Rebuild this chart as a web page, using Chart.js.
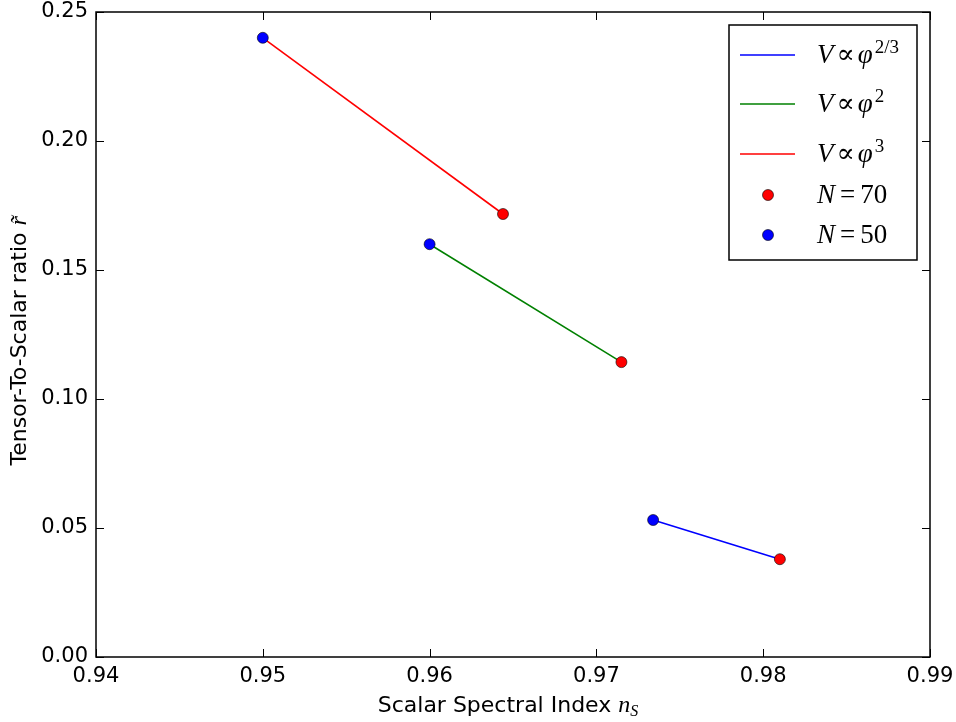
<!DOCTYPE html>
<html>
<head>
<meta charset="utf-8">
<script src="https://cdn.jsdelivr.net/npm/chart.js@4"></script>
<style>
  body { margin: 0; background: #fff; }
</style>
</head>
<body>
<canvas id="chart" width="956" height="722"></canvas>
<script>
// potentials V ∝ φ^p, in legend order
const modelExponents = ['2/3', '2', '3'];
// end points for N = 50 e-folds
const n50Ns = [0.9734, 0.960, 0.950];
const n50R = [0.0531, 0.160, 0.240];
// end points for N = 70 e-folds
const n70Ns = [0.9810, 0.9715, 0.9644];
const n70R = [0.0379, 0.1143, 0.1717];
const pointLabels = ['70', '50'];

const xTicks = [0.94, 0.95, 0.96, 0.97, 0.98, 0.99];
const yTicks = [0.00, 0.05, 0.10, 0.15, 0.20, 0.25];

const lineColors = ['#0000ff', '#008000', '#ff0000'];
const pointColors = ['#ff0000', '#0000ff'];

const SANS = '"DejaVu Sans", sans-serif';
const SERIF = '"Liberation Serif", "DejaVu Serif", serif';

const datasets = [];
modelExponents.forEach((p, i) => {
  datasets.push({
    label: 'V∝φ^' + p,
    data: [{ x: n50Ns[i], y: n50R[i] }, { x: n70Ns[i], y: n70R[i] }],
    showLine: true,
    borderColor: lineColors[i],
    borderWidth: 1.6,
    pointRadius: 0,
    order: 2
  });
});
datasets.push({
  label: 'N=70',
  data: n70Ns.map((v, i) => ({ x: v, y: n70R[i] })),
  backgroundColor: pointColors[0],
  borderColor: '#000',
  borderWidth: 0.6,
  pointRadius: 5.5,
  order: 1
});
datasets.push({
  label: 'N=50',
  data: n50Ns.map((v, i) => ({ x: v, y: n50R[i] })),
  backgroundColor: pointColors[1],
  borderColor: '#000',
  borderWidth: 0.6,
  pointRadius: 5.5,
  order: 1
});

// draw a run of pieces [text, font, raise, gapAfter]
function drawMath(ctx, pieces, x, y) {
  pieces.forEach(([txt, font, raise, gap]) => {
    ctx.font = font;
    ctx.fillText(txt, x, y - (raise || 0));
    x += ctx.measureText(txt).width + (gap || 0);
  });
  return x;
}

function zeroPad(s) {
  s.paddingTop = 0; s.paddingBottom = 0;
  s.paddingLeft = 0; s.paddingRight = 0;
}

const frame = {
  id: 'frame',
  afterDraw(chart) {
    const { ctx, chartArea: a, scales: { x, y } } = chart;
    ctx.save();
    ctx.strokeStyle = '#000';
    ctx.lineWidth = 1;
    ctx.beginPath();
    xTicks.forEach(t => {
      const px = Math.round(x.getPixelForValue(t)) + 0.5;
      ctx.moveTo(px, a.bottom); ctx.lineTo(px, a.bottom - 8);
      ctx.moveTo(px, a.top); ctx.lineTo(px, a.top + 8);
    });
    yTicks.forEach(t => {
      const py = Math.round(y.getPixelForValue(t)) + 0.5;
      ctx.moveTo(a.left, py); ctx.lineTo(a.left + 8, py);
      ctx.moveTo(a.right, py); ctx.lineTo(a.right - 8, py);
    });
    ctx.stroke();
    ctx.lineWidth = 1.5;
    ctx.strokeRect(a.left, a.top, a.right - a.left, a.bottom - a.top);

    // axis titles
    ctx.fillStyle = '#000';
    ctx.textBaseline = 'alphabetic';
    const tf = '22px ' + SANS;
    ctx.font = tf;
    const xt = 'Scalar Spectral Index ';
    const xw = ctx.measureText(xt).width + 30;
    let cx = (a.left + a.right) / 2 - xw / 2;
    cx = drawMath(ctx, [[xt, tf], ['n', 'italic 24px ' + SERIF]], cx, 712);
    drawMath(ctx, [['S', 'italic 16px ' + SERIF, -4]], cx, 712);

    ctx.save();
    ctx.translate(26, (a.top + a.bottom) / 2 + 6);
    ctx.rotate(-Math.PI / 2);
    ctx.font = tf;
    const yt = 'Tensor-To-Scalar ratio ';
    const yw = ctx.measureText(yt).width + 10;
    drawMath(ctx, [[yt, tf], ['r\u0303', 'italic 24px ' + SERIF]], -yw / 2, 0);
    ctx.restore();

    // legend
    const bx = a.right - 201, by = a.top + 13, bw = 188, bh = 235;
    ctx.fillStyle = '#fff';
    ctx.fillRect(bx, by, bw, bh);
    ctx.lineWidth = 1.5;
    ctx.strokeRect(bx, by, bw, bh);
    const rows = [30, 79, 129, 170, 210];
    const tx = bx + 88;
    const it = 'italic 27px ' + SERIF, rm = '27px ' + SERIF;
    ctx.textBaseline = 'middle';
    modelExponents.forEach((p, i) => {
      const ry = by + rows[i];
      ctx.strokeStyle = lineColors[i];
      ctx.lineWidth = 1.6;
      ctx.beginPath();
      ctx.moveTo(bx + 11, ry); ctx.lineTo(bx + 66, ry);
      ctx.stroke();
      ctx.fillStyle = '#000';
      drawMath(ctx, [
        ['V', it, 0, 3],
        ['\u221d', rm, 0, 3],
        ['\u03c6', it, 0, 2],
        [p, '19px ' + SERIF, 8]
      ], tx, ry + 1);
    });
    pointLabels.forEach((n, i) => {
      const ry = by + rows[3 + i];
      ctx.fillStyle = pointColors[i];
      ctx.strokeStyle = '#000';
      ctx.lineWidth = 0.6;
      ctx.beginPath();
      ctx.arc(bx + 39, ry, 5.5, 0, Math.PI * 2);
      ctx.fill(); ctx.stroke();
      ctx.fillStyle = '#000';
      drawMath(ctx, [
        ['N', it, 0, 5],
        ['=', rm, 0, 5],
        [n, rm]
      ], tx, ry + 1);
    });
    ctx.restore();
  }
};

new Chart(document.getElementById('chart'), {
  type: 'scatter',
  data: { datasets },
  options: {
    responsive: false,
    animation: false,
    devicePixelRatio: 1,
    layout: { padding: { top: 12, right: 26, left: 0, bottom: 0 } },
    plugins: { legend: { display: false }, tooltip: { enabled: false } },
    scales: {
      x: {
        type: 'linear',
        min: 0.94,
        max: 0.99,
        afterBuildTicks: s => { s.ticks = xTicks.map(v => ({ value: v })); },
        afterFit: s => { s.height = 65; zeroPad(s); },
        grid: { display: false, drawTicks: false },
        border: { display: false },
        ticks: {
          padding: 7,
          color: '#000',
          maxRotation: 0,
          font: { family: SANS, size: 21 },
          callback: v => v.toFixed(2)
        }
      },
      y: {
        type: 'linear',
        min: 0,
        max: 0.25,
        afterBuildTicks: s => { s.ticks = yTicks.map(v => ({ value: v })); },
        afterFit: s => { s.width = 96; zeroPad(s); },
        grid: { display: false, drawTicks: false },
        border: { display: false },
        ticks: {
          padding: 8,
          color: '#000',
          font: { family: SANS, size: 21 },
          callback: v => v.toFixed(2)
        }
      }
    }
  },
  plugins: [frame]
});
</script>
</body>
</html>
